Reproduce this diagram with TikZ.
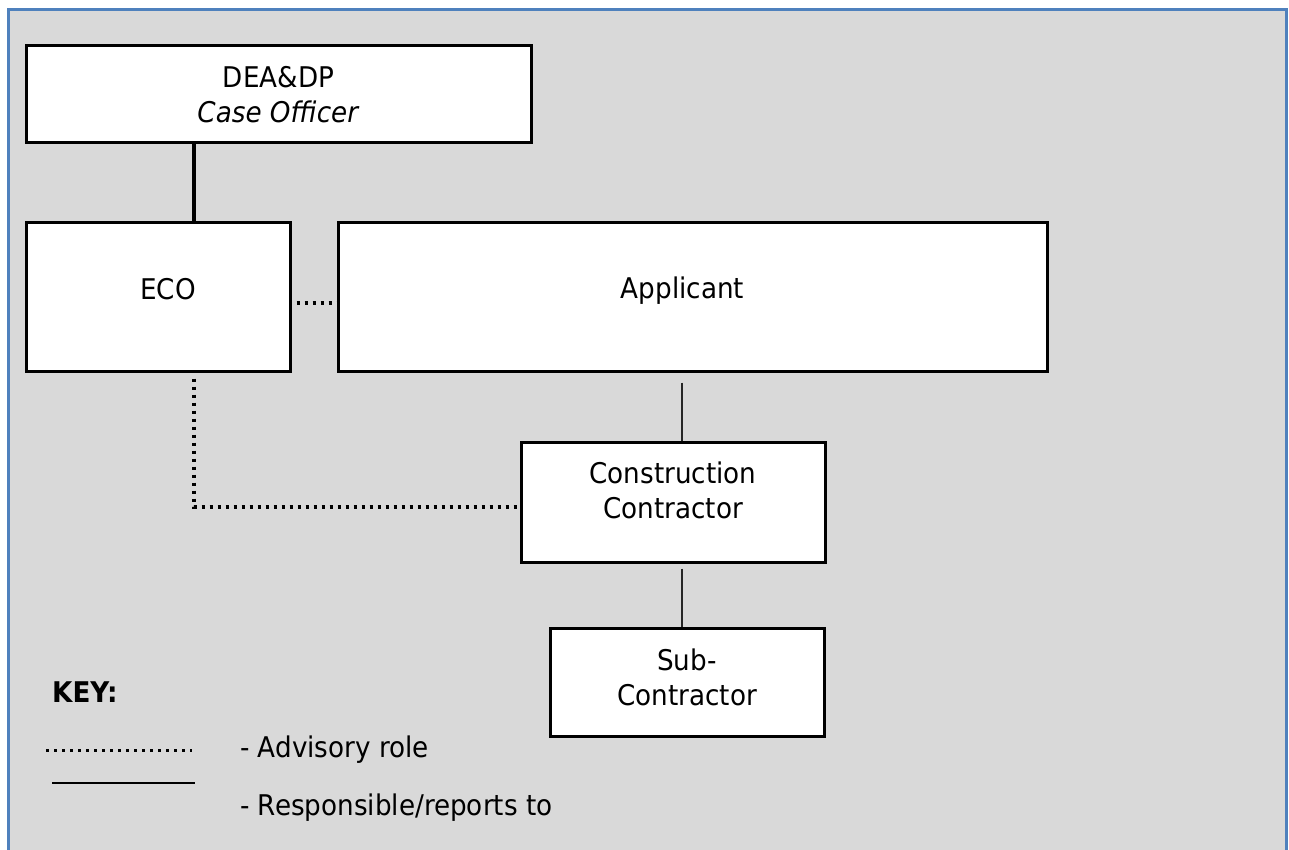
\documentclass[tikz,border=0pt]{standalone}
\usepackage{fontspec}
\setmainfont{DejaVu Sans}[FakeStretch=0.92]
\definecolor{marco}{RGB}{79,129,189}
\definecolor{fondo}{RGB}{217,217,217}

\begin{document}
\begin{tikzpicture}[x=1pt,y=-1pt,
    font=\fontsize{28.5}{35}\selectfont,
    box/.style={draw, line width=3pt, fill=white, inner sep=0pt},
    txt/.style={align=center, inner sep=0pt},
    advisory/.style={line width=3.3pt, dash pattern=on 3.3pt off 4.7pt},
    reports/.style={line width=1.4pt, draw=black!85}]
        \useasboundingbox (0,0) rectangle (1289,850);

        % marco
        \fill[fondo] (8,10) rectangle (1286,852);
        \draw[marco, line width=3pt] (8,852) -- (8,10) -- (1286,10) -- (1286,852);

        % cajas
        \node[box, minimum width=505pt, minimum height=97pt] (dea) at (278.5,94.5) {};
        \node[box, minimum width=264pt, minimum height=148pt] (eco) at (158,297) {};
        \node[box, minimum width=709pt, minimum height=148pt] (app) at (692.5,297) {};
        \node[box, minimum width=304pt, minimum height=120pt] (cc) at (673,502) {};
        \node[box, minimum width=274pt, minimum height=108pt] (sc) at (687,682) {};

        % textos
        \node[txt] (dea-t) at (dea.center) {DEA\&DP\\\textit{Case Officer}};
        \node[txt] (eco-t) at ([xshift=10pt,yshift=8pt]eco.center) {ECO};
        \node[txt] (app-t) at ([xshift=-10pt,yshift=6pt]app.center) {Applicant};
        \node[txt] (cc-t) at ([yshift=12pt]cc.center) {Construction\\Contractor};
        \node[txt] (sc-t) at ([yshift=5pt]sc.center) {Sub-\\Contractor};

        % lineas
        \coordinate (k1) at (194,0);
        \coordinate (k2) at (682,0);
        \draw[line width=3.5pt] (dea.south -| k1) -- (eco.north -| k1);
        \draw[advisory] ([xshift=5pt,yshift=-6pt]eco.east) -- ([yshift=-6pt]app.west);
        \draw[advisory] (eco.south -| k1) ++(0,6) |- ([yshift=-5pt]cc.west);
        \draw[reports] (app.south -| k2) ++(0,10) -- (cc.north -| k2);
        \draw[reports] (cc.south -| k2) ++(0,5) -- (sc.north -| k2);

        % clave
        \node[txt, anchor=west, font=\fontsize{28.5}{35}\selectfont\bfseries] (key) at (52,692) {KEY:};
        \coordinate (d1) at (46,750);
        \coordinate (d2) at (192,750);
        \draw[line width=3pt, dash pattern=on 3pt off 5pt] (d1) -- (d2);
        \node[txt, anchor=west] (adv) at (240,750) {- Advisory role};
        \coordinate (s1) at (52,783);
        \coordinate (s2) at (195,783);
        \draw[reports, draw=black] (s1) -- (s2);
        \node[txt, anchor=west] (rep) at (240,808) {- Responsible/reports to};
\end{tikzpicture}
\end{document}
